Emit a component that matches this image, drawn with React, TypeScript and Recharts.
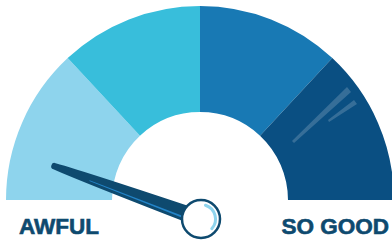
import React from 'react';
import { PieChart, Pie, Cell } from 'recharts';

// gauge bands, in degrees of the half circle
const bandNames = ['Awful', 'Bad', 'Good', 'So good'];
const bandSpans = [47, 43, 43, 47];
const bandColors = ['#8ed4ed', '#38bedb', '#1879b4', '#0a4f82'];

const scaleLabels = ['AWFUL', 'SO GOOD'];
const needleValue = 11; // 0..100

const W = 392;
const H = 244;
const CX = 200;
const CY = 200;
const INNER = 88;
const OUTER = 194;
const NAVY = '#0e4a6f';

const data = bandNames.map((name, i) => ({ name, value: bandSpans[i] }));

function Needle() {
  const px = CX + 1;
  const py = CY + 19;
  const len = 159;
  const ang = ((180 - (needleValue / 100) * 180) * Math.PI) / 180;
  const ux = Math.cos(ang);
  const uy = -Math.sin(ang);
  const nx = -uy;
  const ny = ux;
  const pt = (d: number, w: number) => `${px + ux * d + nx * w},${py + uy * d + ny * w}`;
  const tipR = 3.3;
  const path =
    `M${pt(0, 8.5)} Q${pt(len * 0.78, 5.6)} ${pt(len - tipR, tipR)} ` +
    `A${tipR} ${tipR} 0 0 0 ${pt(len - tipR, -tipR)} Q${pt(len * 0.78, -5.6)} ${pt(0, -8.5)} Z`;
  const stripe = `M${pt(18, -3.2)} L${pt(118, -1.2)} L${pt(118, -2)} L${pt(18, -5.2)} Z`;
  const hubR = 19;
  const a1 = (-72 * Math.PI) / 180;
  const a2 = (42 * Math.PI) / 180;
  const r = 14.5;
  const arc = `M${px + r * Math.cos(a1)},${py + r * Math.sin(a1)} A${r} ${r} 0 0 1 ${px + r * Math.cos(a2)},${py + r * Math.sin(a2)}`;
  return (
    <g>
      <path d={path} fill={NAVY} />
      <path d={stripe} fill="#2384c8" />
      <circle cx={px} cy={py} r={hubR} fill="#fff" stroke={NAVY} strokeWidth={2.5} />
      <path d={arc} fill="none" stroke="#8ed4ed" strokeWidth={3} strokeLinecap="round" />
    </g>
  );
}

function Glare() {
  const fill = 'rgba(255,255,255,0.18)';
  return (
    <g>
      <polygon points={`${CX + 92},${CY - 59} ${CX + 147},${CY - 113} ${CX + 151},${CY - 108} ${CX + 94},${CY - 57}`} fill={fill} />
      <polygon points={`${CX + 128},${CY - 80} ${CX + 154},${CY - 100} ${CX + 157},${CY - 96} ${CX + 129},${CY - 78}`} fill={fill} />
    </g>
  );
}

function Labels() {
  const style = {
    fontFamily: 'Liberation Sans, Arial, sans-serif',
    fontWeight: 700,
    fontSize: 22.5,
    fill: NAVY,
    stroke: NAVY,
    strokeWidth: 0.6,
  };
  return (
    <g>
      <text x={19} y={234} style={style}>{scaleLabels[0]}</text>
      <text x={389} y={234} textAnchor="end" style={style}>{scaleLabels[1]}</text>
    </g>
  );
}

export default function App() {
  return (
    <div style={{ position: 'absolute', left: 0, top: 0, width: W, height: H, background: '#fff' }}>
      <PieChart width={W} height={H} margin={{ top: 0, right: 0, bottom: 0, left: 0 }}>
        <Pie
          data={data}
          dataKey="value"
          cx={CX}
          cy={CY}
          startAngle={180}
          endAngle={0}
          innerRadius={INNER}
          outerRadius={OUTER}
          stroke="none"
          isAnimationActive={false}
        >
          {data.map((d, i) => (
            <Cell key={d.name} fill={bandColors[i]} />
          ))}
        </Pie>
      </PieChart>
      <svg width={W} height={H} style={{ position: 'absolute', left: 0, top: 0, pointerEvents: 'none' }}>
        <Glare />
        <Labels />
        <Needle />
      </svg>
    </div>
  );
}
